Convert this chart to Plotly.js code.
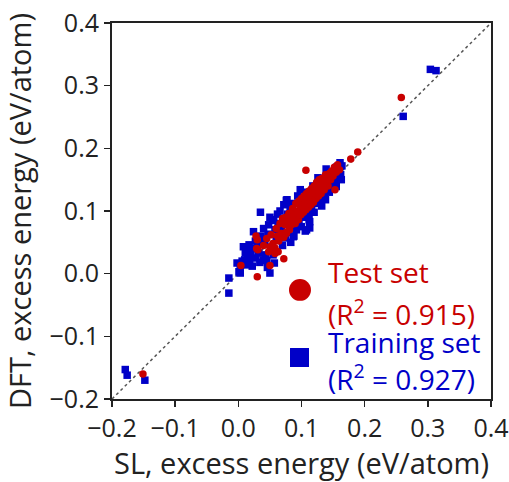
<!DOCTYPE html>
<html>
<head>
<meta charset="utf-8">
<script src="https://cdn.plot.ly/plotly-3.0.1.min.js"></script>
<style>html,body{margin:0;padding:0;background:#fff;}#chart{width:509px;height:482px;}</style>
</head>
<body>
<div id="chart"></div>
<script>
// Training set (blue squares): SL vs DFT excess energy (eV/atom)
const trainX = [0.304,0.313,0.261,-0.179,-0.176,-0.148,-0.015,-0.015,
  -0.002,0.003,0.001,0.003,0.006,0.010,0.012,0.015,0.018,0.020,0.022,0.024,0.008,0.013,0.017,0.024,0.027,0.030,0.032,0.028,
  0.035,0.036,0.038,0.040,0.042,0.043,0.045,0.047,0.048,0.050,0.052,0.050,0.054,0.056,0.057,0.058,0.060,0.062,0.063,0.065,
  0.066,0.068,0.070,0.072,0.074,0.075,0.077,0.078,0.080,0.082,0.083,0.085,0.087,0.088,0.090,0.092,0.094,0.096,0.098,0.100,
  0.100,0.102,0.104,0.106,0.108,0.110,0.112,0.113,0.115,0.116,0.118,0.120,0.122,0.124,0.126,0.128,0.130,0.132,0.134,0.136,
  0.138,0.139,0.140,0.142,0.144,0.146,0.148,0.150,0.152,0.153,0.155,0.156,0.158,0.160,0.161,0.162,0.164,0.163,
  0.087,0.108,0.113,0.076,0.134,0.155,0.046,0.040,0.034,0.055,0.011,0.019];
const trainY = [0.326,0.324,0.251,-0.153,-0.162,-0.170,-0.007,-0.031,
  0.017,0.012,0.003,0.001,0.020,0.022,0.014,0.027,0.020,0.031,0.012,0.040,0.043,0.038,0.046,0.067,0.052,0.045,0.033,0.025,
  0.098,0.060,0.055,0.072,0.048,0.030,0.021,0.063,0.078,0.001,0.040,0.090,0.085,0.086,0.017,0.070,0.055,0.095,0.080,0.062,
  0.100,0.073,0.045,0.110,0.088,0.057,0.118,0.095,0.066,0.106,0.050,0.080,0.112,0.060,0.098,0.070,0.124,0.084,0.134,0.075,
  0.105,0.090,0.118,0.068,0.130,0.095,0.086,0.073,0.120,0.104,0.140,0.098,0.128,0.112,0.153,0.118,0.135,0.108,0.145,0.125,
  0.118,0.167,0.140,0.155,0.130,0.148,0.160,0.138,0.150,0.162,0.145,0.170,0.155,0.165,0.177,0.158,0.172,0.150,
  0.059,0.070,0.083,0.117,0.125,0.139,0.010,0.022,0.018,0.030,0.033,0.036];

// Test set (red circles)
const testX = [0.258,0.189,0.178,-0.151,0.107,0.030,0.004,0.050,0.072,0.063,
  0.030,0.031,0.028,0.040,0.045,0.048,0.052,0.055,0.058,0.060,0.062,0.064,0.066,0.068,0.070,0.072,0.074,0.075,0.076,0.078,
  0.080,0.081,0.083,0.084,0.086,0.087,0.088,0.090,0.091,0.092,0.094,0.095,0.096,0.098,0.099,0.100,0.102,0.103,0.104,0.106,
  0.107,0.108,0.110,0.111,0.112,0.114,0.115,0.116,0.118,0.119,0.120,0.122,0.123,0.124,0.126,0.127,0.128,0.130,0.131,0.132,
  0.134,0.136,0.138,0.140,0.142,0.144,0.146,0.148,0.150,0.152,0.153,0.155,0.157,0.160,
  0.029,0.058,0.076,0.081,0.050];
const testY = [0.281,0.194,0.183,-0.160,0.165,-0.005,0.013,0.013,0.024,0.035,
  0.054,0.038,0.060,0.045,0.056,0.035,0.062,0.048,0.041,0.072,0.060,0.052,0.080,0.064,0.088,0.058,0.078,0.090,0.066,0.084,
  0.096,0.070,0.090,0.078,0.104,0.086,0.095,0.080,0.112,0.092,0.100,0.086,0.116,0.104,0.094,0.120,0.108,0.098,0.124,0.112,
  0.102,0.128,0.118,0.106,0.132,0.120,0.110,0.136,0.126,0.114,0.140,0.130,0.120,0.146,0.134,0.124,0.150,0.140,0.128,0.152,
  0.144,0.134,0.158,0.148,0.140,0.160,0.150,0.164,0.156,0.170,0.134,0.162,0.174,0.166,
  0.040,0.032,0.064,0.075,0.043];

// parity line
const diagX = [-0.2, 0.4];
const diagY = [-0.2, 0.4];

const xTicks = [-0.2,-0.1,0.0,0.1,0.2,0.3,0.4];
const yTicks = [-0.2,-0.1,0.0,0.1,0.2,0.3,0.4];

const RED = '#C80000', BLUE = '#0000C8';
const FONT = '"Open Sans", "Noto Sans", sans-serif';

const traces = [
  {x: diagX, y: diagY, mode: 'lines', line: {color: '#555', width: 1.5, dash: 'dot'}, hoverinfo: 'skip', showlegend: false},
  {x: trainX, y: trainY, mode: 'markers', name: 'Training set', marker: {symbol: 'square', size: 7.5, color: BLUE}, showlegend: false},
  {x: testX, y: testY, mode: 'markers', name: 'Test set', marker: {symbol: 'circle', size: 7.5, color: RED}, showlegend: false}
];

const fmt = v => (v < 0 ? '\u2212' : '') + Math.abs(v).toFixed(1);

const axisCommon = {
  range: [-0.2, 0.4], tickmode: 'array', showgrid: false, zeroline: false,
  showline: true, linecolor: '#222', linewidth: 2, mirror: true,
  ticks: 'outside', ticklen: 6, tickwidth: 1.5, tickcolor: '#222',
  tickfont: {family: FONT, size: 25, color: '#222'}
};

const layout = {
  width: 509, height: 482,
  margin: {l: 112, r: 18, t: 23, b: 83},
  paper_bgcolor: '#fff', plot_bgcolor: '#fff',
  font: {family: FONT},
  xaxis: Object.assign({}, axisCommon, {tickvals: xTicks, ticktext: xTicks.map(fmt), ticklabelstandoff: 0,
    title: {text: 'SL, excess energy (eV/atom)', font: {family: FONT, size: 29, color: '#222'}, standoff: 10}}),
  yaxis: Object.assign({}, axisCommon, {tickvals: yTicks, ticktext: yTicks.map(fmt),
    title: {text: 'DFT, excess energy (eV/atom)', font: {family: FONT, size: 29, color: '#222'}, standoff: 10}}),
  shapes: [
    {type: 'circle', xref: 'paper', yref: 'paper', x0: 0.467, x1: 0.525, y0: 0.261, y1: 0.319, fillcolor: RED, line: {width: 0}},
    {type: 'rect', xref: 'paper', yref: 'paper', x0: 0.4697, x1: 0.5198, y0: 0.0851, y1: 0.1356, fillcolor: BLUE, line: {width: 0}}
  ],
  annotations: [
    {text: 'Test set', xref: 'paper', yref: 'paper', x: 0.565, y: 0.338, xanchor: 'left', yanchor: 'middle', showarrow: false, font: {family: FONT, size: 28, color: RED}},
    {text: '(R<sup>2</sup> = 0.915)', xref: 'paper', yref: 'paper', x: 0.565, y: 0.231, xanchor: 'left', yanchor: 'middle', showarrow: false, font: {family: FONT, size: 28, color: RED}},
    {text: 'Training set', xref: 'paper', yref: 'paper', x: 0.565, y: 0.152, xanchor: 'left', yanchor: 'middle', showarrow: false, font: {family: FONT, size: 28, color: BLUE}},
    {text: '(R<sup>2</sup> = 0.927)', xref: 'paper', yref: 'paper', x: 0.565, y: 0.0585, xanchor: 'left', yanchor: 'middle', showarrow: false, font: {family: FONT, size: 28, color: BLUE}}
  ]
};

Plotly.newPlot('chart', traces, layout, {displayModeBar: false, staticPlot: true});
</script>
</body>
</html>
